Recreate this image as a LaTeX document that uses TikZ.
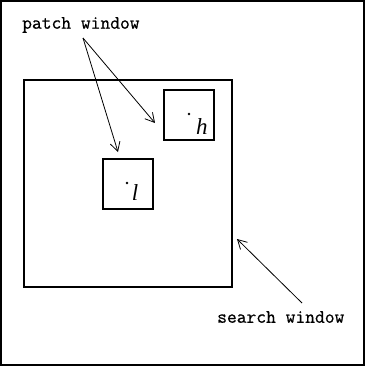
\documentclass[tikz,border=0pt]{standalone}
\usepackage{fontspec}
\setmonofont{Latin Modern Mono}[FakeBold=0.7]
\newfontfamily\labelserif{Liberation Serif}
\usetikzlibrary{arrows.meta}
\tikzset{
  frame/.style={draw, line width=1.4pt},
  winbox/.style={draw, line width=1.4pt, minimum width=50pt, minimum height=50pt, inner sep=0pt},
  caption/.style={font=\fontsize{19}{20}\selectfont\ttfamily, inner sep=0pt},
  pointer/.style={line width=0.8pt, -{Straight Barb[length=9pt,width=10pt,line width=0.8pt]}},
  mark dot/.style={fill, circle, inner sep=0pt, minimum size=2.8pt},
  patchlabel/.style={font=\fontsize{23}{23}\selectfont\labelserif\itshape, inner sep=0pt}
}
\begin{document}
\begin{tikzpicture}[x=1pt,y=-1pt]
  \useasboundingbox (0,0) rectangle (366,368);
  % outer frame
  \draw[frame] (1,1) rectangle (364,365);
  % search window
  \node[frame, inner sep=0pt, minimum width=208pt, minimum height=207pt] (search) at (128,183.5) {};
  % two patch windows
  \node[winbox] (ph) at (189,115) {};
  \node[winbox] (pl) at (128,184) {};
  \node[mark dot] (dh) at (189,114) {};
  \node[mark dot] (dl) at (127,183) {};
  \node[patchlabel] (lh) at (202,127) {h};
  \node[patchlabel] (ll) at (135,193) {l};
  % captions
  \node[caption, anchor=west] (ptxt) at (22,25) {patch window};
  \node[caption, anchor=west] (stxt) at (217,317) {search window};
  \coordinate (pfrom) at (83,38);
  \coordinate (sfrom) at (302,303);
  % pointers
  \draw[pointer] (pfrom) -- (155,123);
  \draw[pointer] (pfrom) -- (118,152);
  \draw[pointer] (sfrom) -- (237,239);
\end{tikzpicture}
\end{document}
